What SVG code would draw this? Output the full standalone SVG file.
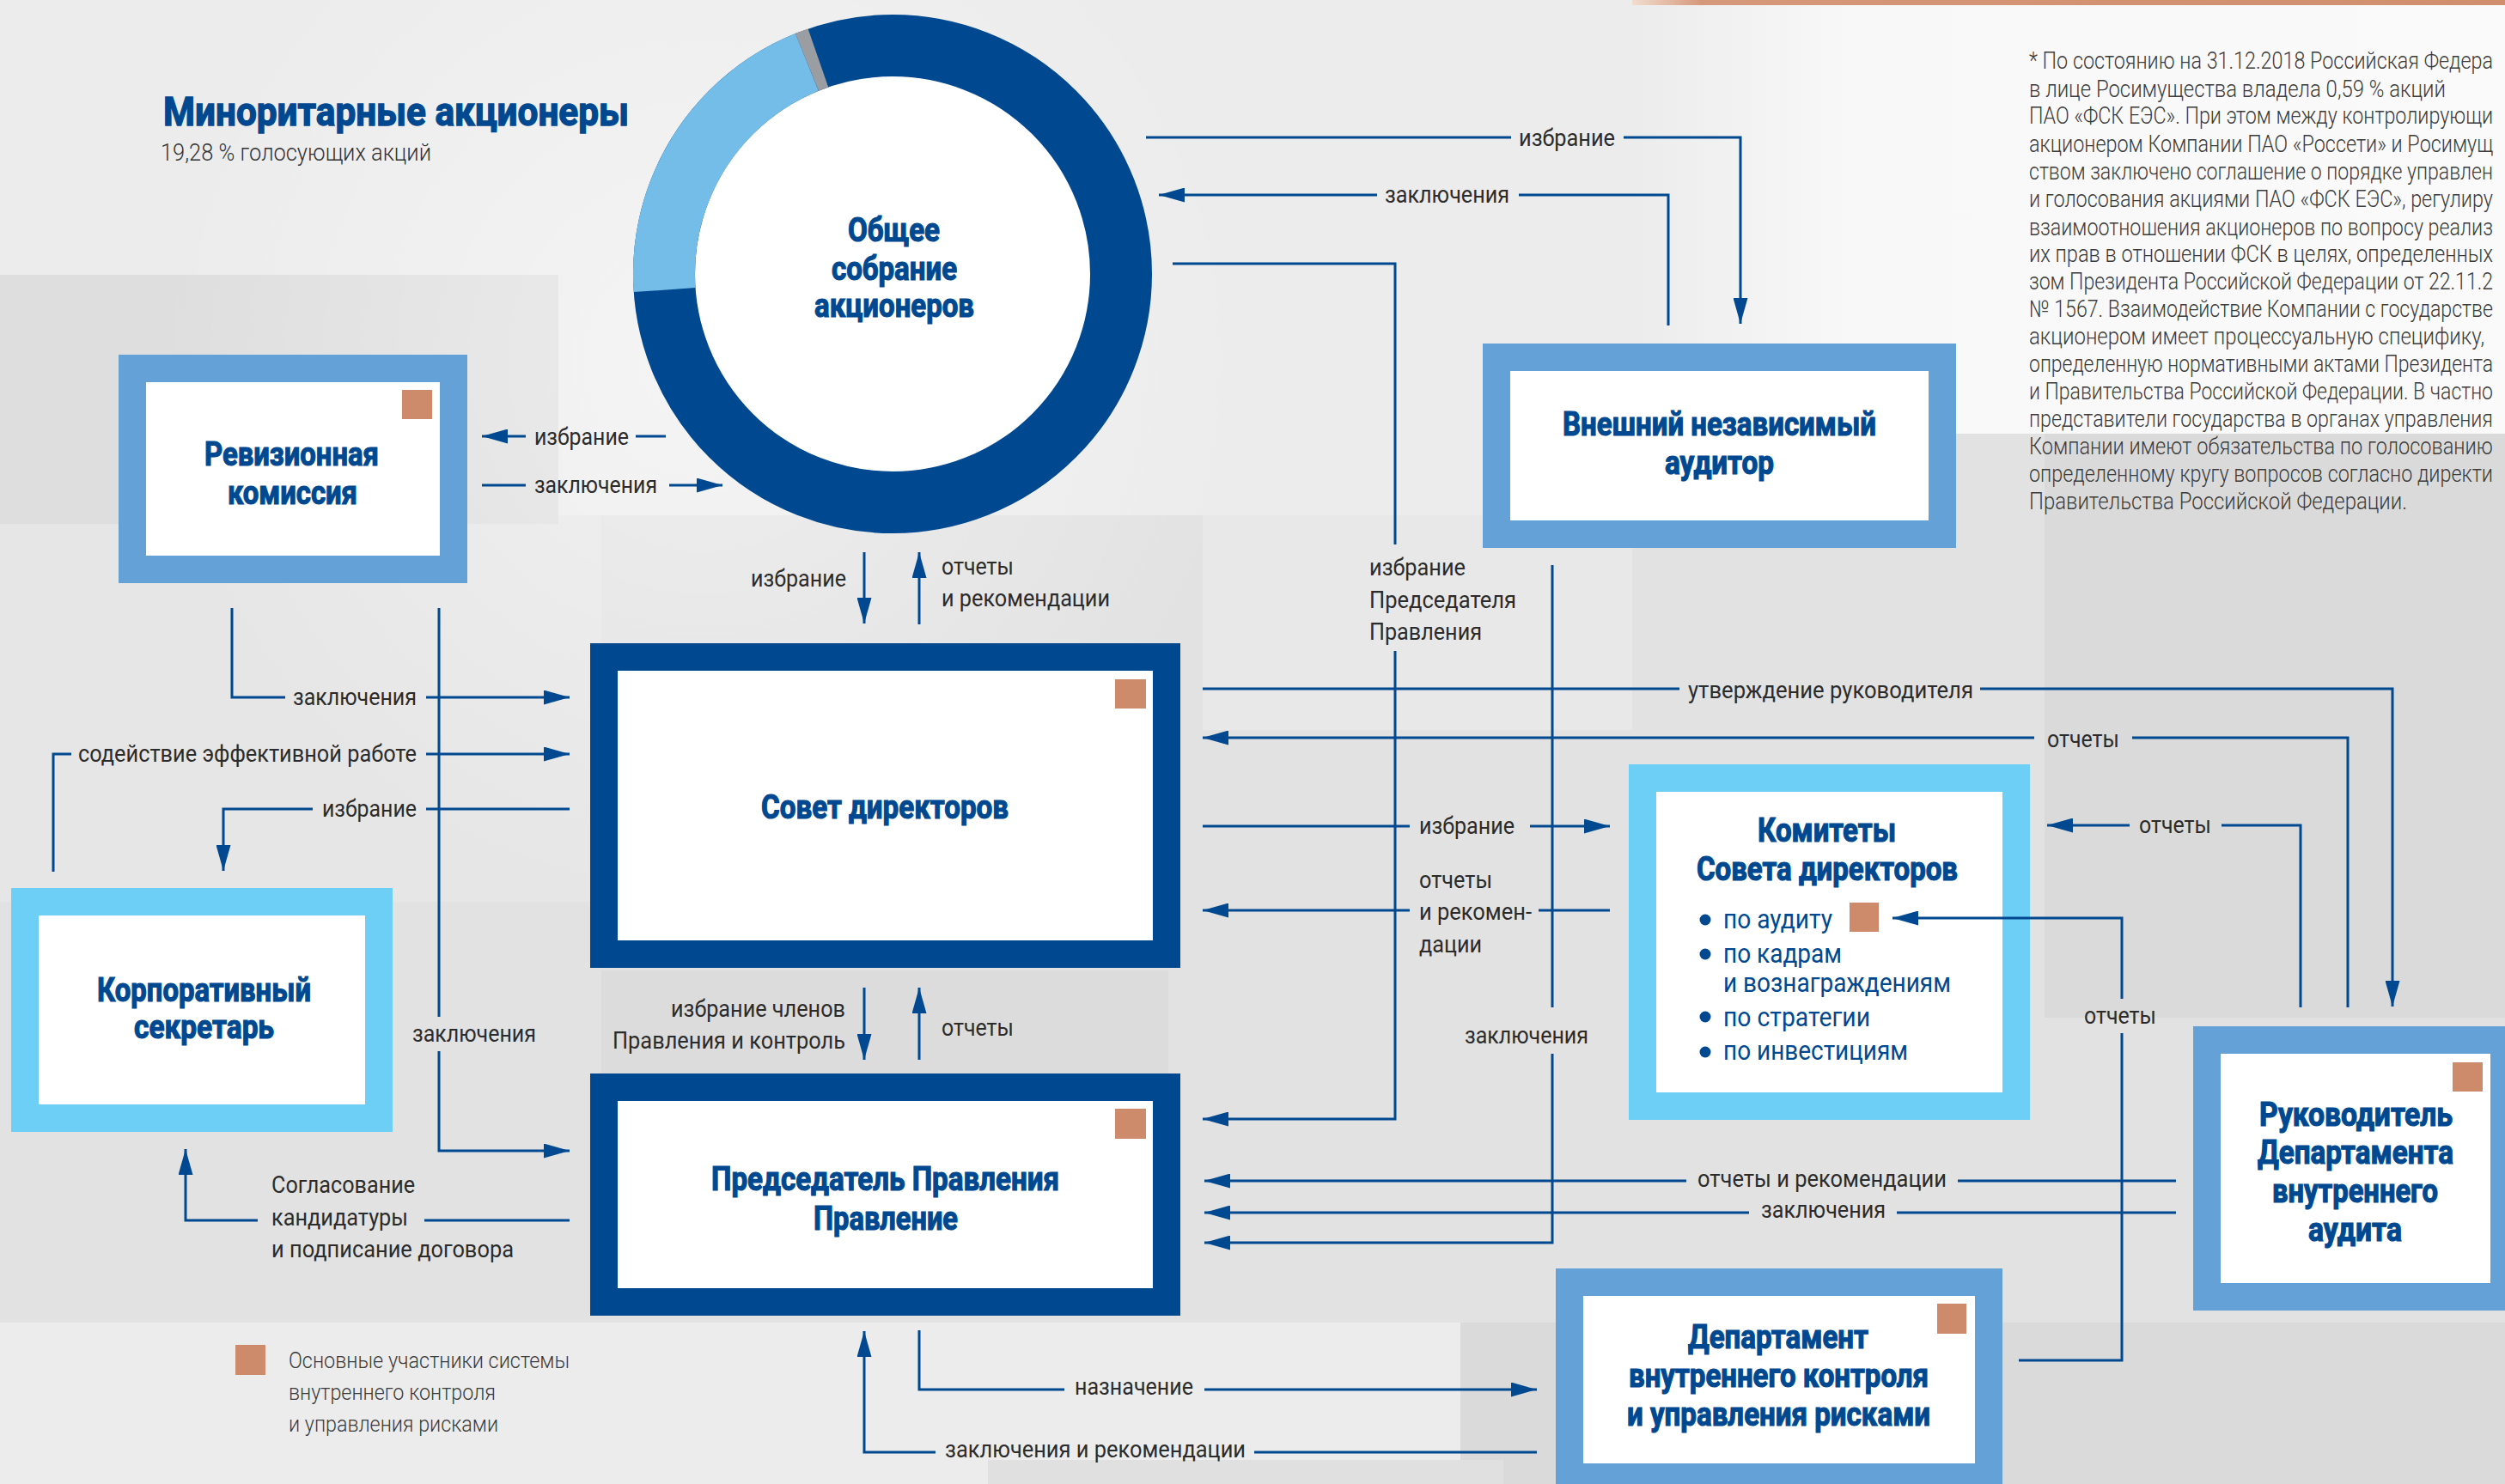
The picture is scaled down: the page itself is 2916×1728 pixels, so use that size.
<svg xmlns="http://www.w3.org/2000/svg" width="2916" height="1728" viewBox="0 0 2916 1728">
<defs>
<style>
.lbl{font-family:Roboto,"Liberation Sans",sans-serif;font-size:28px;fill:#2b2b2b;}
.ttl{font-family:Roboto,"Liberation Sans",sans-serif;font-size:38px;font-weight:700;fill:#004990;stroke:#004990;stroke-width:1.2px;}
.itm{font-family:Roboto,"Liberation Sans",sans-serif;font-size:32px;fill:#004990;}
.fn{font-family:Roboto,"Liberation Sans",sans-serif;font-size:27px;font-weight:300;fill:#3c3c3c;}
.leg{font-family:Roboto,"Liberation Sans",sans-serif;font-size:25px;font-weight:300;fill:#3a3a3a;}
.conn path{fill:none;stroke:#004990;stroke-width:3;}
.a{marker-end:url(#ah);}
.dk{fill:#fff;stroke:#004990;stroke-width:32;}
.md{fill:#fff;stroke:#63a1d6;stroke-width:32;}
.cy{fill:#fff;stroke:#6dcff6;stroke-width:32;}
.sq{fill:#cd8b6b;}
</style>
<marker id="ah" viewBox="0 0 30 17" refX="30" refY="8.5" markerWidth="30" markerHeight="17" markerUnits="userSpaceOnUse" orient="auto">
<path d="M0,0 L30,8.5 L0,17 Z" fill="#004990"/>
</marker>
<linearGradient id="bar" x1="0" x2="1" y1="0" y2="0">
<stop offset="0" stop-color="#f1ddd0"/>
<stop offset="0.08" stop-color="#d6987a"/>
<stop offset="1" stop-color="#d08e6c"/>
</linearGradient>
<linearGradient id="fnbg" x1="0" x2="1" y1="0" y2="0">
<stop offset="0" stop-color="#ececec"/>
<stop offset="0.25" stop-color="#f8f8f8"/>
<stop offset="1" stop-color="#fafafa"/>
</linearGradient>
<radialGradient id="glow" cx="0.5" cy="0.5" r="0.5">
<stop offset="0" stop-color="#ffffff" stop-opacity="0.45"/>
<stop offset="1" stop-color="#ffffff" stop-opacity="0"/>
</radialGradient>
</defs>

<g id="background">
<rect x="0" y="0" width="2916" height="1728" fill="#e2e2e2"/>
<rect x="0" y="0" width="1900" height="600" fill="#ececec"/>
<rect x="0" y="600" width="700" height="450" fill="#e6e6e6"/>
<rect x="0" y="320" width="650" height="290" fill="#dedede"/>
<circle cx="820" cy="420" r="640" fill="url(#glow)"/>
<rect x="1900" y="0" width="1016" height="505" fill="url(#fnbg)"/>
<rect x="2380" y="505" width="536" height="680" fill="#dadada"/>
<rect x="1400" y="600" width="500" height="250" fill="#e8e8e8"/>
<rect x="700" y="1130" width="660" height="130" fill="#dcdcdc"/>
<rect x="0" y="1540" width="1700" height="188" fill="#ececec"/>
<rect x="1700" y="1540" width="1216" height="188" fill="#dadada"/>
<rect x="1150" y="1700" width="600" height="28" fill="#e0e0e0"/>
<rect x="1900" y="0" width="1016" height="6" fill="url(#bar)"/>
</g>

<g id="heading">
<text x="190" y="146" font-family="Roboto,'Liberation Sans',sans-serif" font-size="46" font-weight="700" fill="#004990" stroke="#004990" stroke-width="1.4" textLength="542" lengthAdjust="spacingAndGlyphs">Миноритарные акционеры</text>
<text x="187" y="187" font-family="Roboto,'Liberation Sans',sans-serif" font-size="28" font-weight="300" fill="#333" textLength="315" lengthAdjust="spacingAndGlyphs">19,28 % голосующих акций</text>
</g>

<g id="footnote">
<text class="fn" x="2362" y="80" textLength="540" lengthAdjust="spacingAndGlyphs">* По состоянию на 31.12.2018 Российская Федера</text>
<text class="fn" x="2362" y="113" textLength="485" lengthAdjust="spacingAndGlyphs">в лице Росимущества владела 0,59 % акций</text>
<text class="fn" x="2362" y="144" textLength="540" lengthAdjust="spacingAndGlyphs">ПАО «ФСК ЕЭС». При этом между контролирующи</text>
<text class="fn" x="2362" y="177" textLength="540" lengthAdjust="spacingAndGlyphs">акционером Компании ПАО «Россети» и Росимущ</text>
<text class="fn" x="2362" y="209" textLength="540" lengthAdjust="spacingAndGlyphs">ством заключено соглашение о порядке управлен</text>
<text class="fn" x="2362" y="241" textLength="540" lengthAdjust="spacingAndGlyphs">и голосования акциями ПАО «ФСК ЕЭС», регулиру</text>
<text class="fn" x="2362" y="274" textLength="540" lengthAdjust="spacingAndGlyphs">взаимоотношения акционеров по вопросу реализ</text>
<text class="fn" x="2362" y="305" textLength="540" lengthAdjust="spacingAndGlyphs">их прав в отношении ФСК в целях, определенных</text>
<text class="fn" x="2362" y="337" textLength="540" lengthAdjust="spacingAndGlyphs">зом Президента Российской Федерации от 22.11.2</text>
<text class="fn" x="2362" y="369" textLength="540" lengthAdjust="spacingAndGlyphs">№ 1567. Взаимодействие Компании с государстве</text>
<text class="fn" x="2362" y="401" textLength="530" lengthAdjust="spacingAndGlyphs">акционером имеет процессуальную специфику,</text>
<text class="fn" x="2362" y="433" textLength="540" lengthAdjust="spacingAndGlyphs">определенную нормативными актами Президента</text>
<text class="fn" x="2362" y="465" textLength="540" lengthAdjust="spacingAndGlyphs">и Правительства Российской Федерации. В частно</text>
<text class="fn" x="2362" y="497" textLength="540" lengthAdjust="spacingAndGlyphs">представители государства в органах управления</text>
<text class="fn" x="2362" y="529" textLength="540" lengthAdjust="spacingAndGlyphs">Компании имеют обязательства по голосованию</text>
<text class="fn" x="2362" y="561" textLength="540" lengthAdjust="spacingAndGlyphs">определенному кругу вопросов согласно директи</text>
<text class="fn" x="2362" y="593" textLength="440" lengthAdjust="spacingAndGlyphs">Правительства Российской Федерации.</text>
</g>

<g id="node-meeting">
<circle cx="1039" cy="319" r="266" fill="#fff" stroke="#004990" stroke-width="72"/>
<path d="M773.6,337.6 A266,266 0 0 1 939.4,72.4" fill="none" stroke="#74bde8" stroke-width="72"/>
<path d="M939.4,72.4 A266,266 0 0 1 952.4,67.5" fill="none" stroke="#9a9da2" stroke-width="72"/>
<text class="ttl" x="987" y="281" textLength="107" lengthAdjust="spacingAndGlyphs">Общее</text>
<text class="ttl" x="968" y="326" textLength="146" lengthAdjust="spacingAndGlyphs">собрание</text>
<text class="ttl" x="948" y="369" textLength="186" lengthAdjust="spacingAndGlyphs">акционеров</text>
</g>

<g id="node-revision">
<rect class="md" x="154" y="429" width="374" height="234"/>
<rect class="sq" x="468" y="454" width="35" height="34"/>
<text class="ttl" x="238" y="542" textLength="203" lengthAdjust="spacingAndGlyphs">Ревизионная</text>
<text class="ttl" x="265" y="587" textLength="151" lengthAdjust="spacingAndGlyphs">комиссия</text>
</g>

<g id="node-auditor">
<rect class="md" x="1742" y="416" width="519" height="206"/>
<text class="ttl" x="1819" y="507" textLength="365" lengthAdjust="spacingAndGlyphs">Внешний независимый</text>
<text class="ttl" x="1938" y="552" textLength="127" lengthAdjust="spacingAndGlyphs">аудитор</text>
</g>

<g id="node-board">
<rect class="dk" x="703" y="765" width="655" height="346"/>
<rect class="sq" x="1298" y="791" width="36" height="34"/>
<text class="ttl" x="886" y="953" textLength="288" lengthAdjust="spacingAndGlyphs">Совет директоров</text>
</g>

<g id="node-secretary">
<rect class="cy" x="29" y="1050" width="412" height="252"/>
<text class="ttl" x="113" y="1166" textLength="249" lengthAdjust="spacingAndGlyphs">Корпоративный</text>
<text class="ttl" x="156" y="1209" textLength="163" lengthAdjust="spacingAndGlyphs">секретарь</text>
</g>

<g id="node-chairman">
<rect class="dk" x="703" y="1266" width="655" height="250"/>
<rect class="sq" x="1298" y="1291" width="36" height="35"/>
<text class="ttl" x="828" y="1386" textLength="405" lengthAdjust="spacingAndGlyphs">Председатель Правления</text>
<text class="ttl" x="947" y="1432" textLength="168" lengthAdjust="spacingAndGlyphs">Правление</text>
</g>

<g id="node-committees">
<rect class="cy" x="1912" y="906" width="435" height="382"/>
<text class="ttl" x="2046" y="980" textLength="161" lengthAdjust="spacingAndGlyphs">Комитеты</text>
<text class="ttl" x="1975" y="1025" textLength="304" lengthAdjust="spacingAndGlyphs">Совета директоров</text>
<circle cx="1985" cy="1071" r="6.5" fill="#004990"/>
<circle cx="1985" cy="1111" r="6.5" fill="#004990"/>
<circle cx="1985" cy="1184" r="6.5" fill="#004990"/>
<circle cx="1985" cy="1225" r="6.5" fill="#004990"/>
<text class="itm" x="2006" y="1081" textLength="127" lengthAdjust="spacingAndGlyphs">по аудиту</text>
<rect class="sq" x="2153" y="1051" width="34" height="34"/>
<text class="itm" x="2006" y="1121" textLength="138" lengthAdjust="spacingAndGlyphs">по кадрам</text>
<text class="itm" x="2006" y="1155" textLength="265" lengthAdjust="spacingAndGlyphs">и вознаграждениям</text>
<text class="itm" x="2006" y="1195" textLength="171" lengthAdjust="spacingAndGlyphs">по стратегии</text>
<text class="itm" x="2006" y="1234" textLength="215" lengthAdjust="spacingAndGlyphs">по инвестициям</text>
</g>

<g id="node-audit-head">
<rect class="md" x="2569" y="1211" width="346" height="299"/>
<rect class="sq" x="2855" y="1237" width="35" height="34"/>
<text class="ttl" x="2630" y="1311" textLength="225" lengthAdjust="spacingAndGlyphs">Руководитель</text>
<text class="ttl" x="2628" y="1355" textLength="228" lengthAdjust="spacingAndGlyphs">Департамента</text>
<text class="ttl" x="2645" y="1400" textLength="193" lengthAdjust="spacingAndGlyphs">внутреннего</text>
<text class="ttl" x="2687" y="1445" textLength="109" lengthAdjust="spacingAndGlyphs">аудита</text>
</g>

<g id="node-control-dept">
<rect class="md" x="1827" y="1493" width="488" height="227"/>
<rect class="sq" x="2255" y="1518" width="34" height="35"/>
<text class="ttl" x="1965" y="1570" textLength="210" lengthAdjust="spacingAndGlyphs">Департамент</text>
<text class="ttl" x="1896" y="1615" textLength="349" lengthAdjust="spacingAndGlyphs">внутреннего контроля</text>
<text class="ttl" x="1894" y="1660" textLength="353" lengthAdjust="spacingAndGlyphs">и управления рисками</text>
</g>

<g id="legend">
<rect class="sq" x="274" y="1566" width="35" height="35"/>
<text class="leg" x="336" y="1593" textLength="327" lengthAdjust="spacingAndGlyphs">Основные участники системы</text>
<text class="leg" x="336" y="1630" textLength="241" lengthAdjust="spacingAndGlyphs">внутреннего контроля</text>
<text class="leg" x="336" y="1667" textLength="244" lengthAdjust="spacingAndGlyphs">и управления рисками</text>
</g>

<g id="connectors" class="conn">
<path class="a" d="M775,508 H740 M612,508 H561"/>
<path class="a" d="M561,565 H612 M779,565 H841"/>
<path class="a" d="M270,708 V812 H332 M496,812 H663"/>
<path class="a" d="M511,708 V1184 M511,1224 V1340 H663"/>
<path class="a" d="M62,1015 V878 H83 M496,878 H663"/>
<path class="a" d="M663,942 H496 M364,942 H260 V1014"/>
<path class="a" d="M663,1421 H494 M300,1421 H216 V1338"/>
<path class="a" d="M1006,643 V726"/>
<path class="a" d="M1070,727 V643"/>
<path class="a" d="M1006,1150 V1234"/>
<path class="a" d="M1070,1234 V1150"/>
<path class="a" d="M1334,160 H1759 M1890,160 H2026 V377"/>
<path class="a" d="M1942,379 V227 H1768 M1603,227 H1349"/>
<path class="a" d="M1365,307 H1624 V634 M1624,758 V1303 H1400"/>
<path class="a" d="M1807,658 V1173 M1807,1227 V1447 H1402"/>
<path class="a" d="M1400,802 H1955 M2305,802 H2785 V1172"/>
<path class="a" d="M2733,1173 V859 H2482 M2368,859 H1400"/>
<path class="a" d="M1400,962 H1641 M1781,962 H1874"/>
<path class="a" d="M1874,1060 H1791 M1641,1060 H1400"/>
<path class="a" d="M2678,1173 V961 H2586 M2479,961 H2383"/>
<path class="a" d="M2350,1584 H2470 V1203 M2470,1163 V1069 H2203"/>
<path class="a" d="M2533,1375 H2279 M1963,1375 H1402"/>
<path class="a" d="M2533,1412 H2208 M2036,1412 H1402"/>
<path class="a" d="M1070,1549 V1618 H1239 M1402,1618 H1789"/>
<path class="a" d="M1789,1691 H1460 M1089,1691 H1006 V1550"/>
</g>

<g id="labels">
<text class="lbl" x="622" y="518" textLength="110" lengthAdjust="spacingAndGlyphs">избрание</text>
<text class="lbl" x="622" y="574" textLength="143" lengthAdjust="spacingAndGlyphs">заключения</text>
<text class="lbl" x="341" y="821" textLength="144" lengthAdjust="spacingAndGlyphs">заключения</text>
<text class="lbl" x="91" y="887" textLength="394" lengthAdjust="spacingAndGlyphs">содействие эффективной работе</text>
<text class="lbl" x="375" y="951" textLength="110" lengthAdjust="spacingAndGlyphs">избрание</text>
<text class="lbl" x="480" y="1213" textLength="144" lengthAdjust="spacingAndGlyphs">заключения</text>
<text class="lbl" x="874" y="683" textLength="111" lengthAdjust="spacingAndGlyphs">избрание</text>
<text class="lbl" x="1096" y="669" textLength="84" lengthAdjust="spacingAndGlyphs">отчеты</text>
<text class="lbl" x="1096" y="706" textLength="196" lengthAdjust="spacingAndGlyphs">и рекомендации</text>
<text class="lbl" x="781" y="1184" textLength="203" lengthAdjust="spacingAndGlyphs">избрание членов</text>
<text class="lbl" x="713" y="1221" textLength="271" lengthAdjust="spacingAndGlyphs">Правления и контроль</text>
<text class="lbl" x="1096" y="1206" textLength="84" lengthAdjust="spacingAndGlyphs">отчеты</text>
<text class="lbl" x="1768" y="170" textLength="112" lengthAdjust="spacingAndGlyphs">избрание</text>
<text class="lbl" x="1612" y="236" textLength="145" lengthAdjust="spacingAndGlyphs">заключения</text>
<text class="lbl" x="1594" y="670" textLength="112" lengthAdjust="spacingAndGlyphs">избрание</text>
<text class="lbl" x="1594" y="708" textLength="171" lengthAdjust="spacingAndGlyphs">Председателя</text>
<text class="lbl" x="1594" y="745" textLength="131" lengthAdjust="spacingAndGlyphs">Правления</text>
<text class="lbl" x="1965" y="813" textLength="332" lengthAdjust="spacingAndGlyphs">утверждение руководителя</text>
<text class="lbl" x="2383" y="870" textLength="84" lengthAdjust="spacingAndGlyphs">отчеты</text>
<text class="lbl" x="1652" y="971" textLength="111" lengthAdjust="spacingAndGlyphs">избрание</text>
<text class="lbl" x="1652" y="1034" textLength="85" lengthAdjust="spacingAndGlyphs">отчеты</text>
<text class="lbl" x="1652" y="1071" textLength="131" lengthAdjust="spacingAndGlyphs">и рекомен-</text>
<text class="lbl" x="1652" y="1109" textLength="73" lengthAdjust="spacingAndGlyphs">дации</text>
<text class="lbl" x="1705" y="1215" textLength="144" lengthAdjust="spacingAndGlyphs">заключения</text>
<text class="lbl" x="2490" y="970" textLength="84" lengthAdjust="spacingAndGlyphs">отчеты</text>
<text class="lbl" x="2426" y="1192" textLength="84" lengthAdjust="spacingAndGlyphs">отчеты</text>
<text class="lbl" x="1976" y="1382" textLength="290" lengthAdjust="spacingAndGlyphs">отчеты и рекомендации</text>
<text class="lbl" x="2050" y="1418" textLength="145" lengthAdjust="spacingAndGlyphs">заключения</text>
<text class="lbl" x="316" y="1389" textLength="167" lengthAdjust="spacingAndGlyphs">Согласование</text>
<text class="lbl" x="316" y="1427" textLength="159" lengthAdjust="spacingAndGlyphs">кандидатуры</text>
<text class="lbl" x="316" y="1464" textLength="282" lengthAdjust="spacingAndGlyphs">и подписание договора</text>
<text class="lbl" x="1251" y="1624" textLength="138" lengthAdjust="spacingAndGlyphs">назначение</text>
<text class="lbl" x="1100" y="1697" textLength="350" lengthAdjust="spacingAndGlyphs">заключения и рекомендации</text>
</g>
</svg>
